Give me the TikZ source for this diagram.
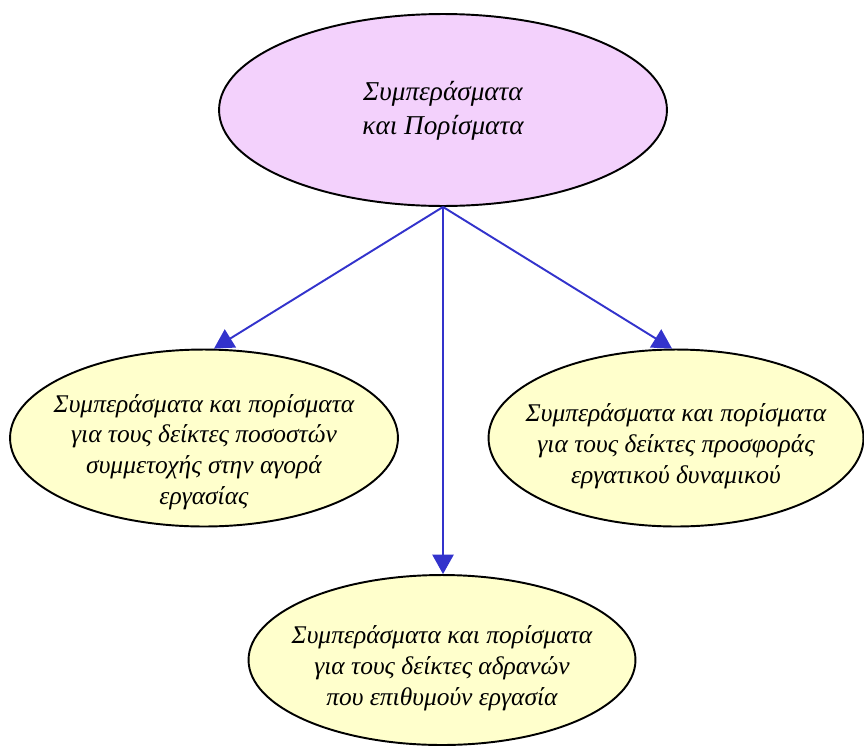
\documentclass[tikz,border=0pt]{standalone}
\usepackage{fontspec}
\setmainfont{Liberation Serif}
\usepackage{tikz}
\usetikzlibrary{shapes.geometric, arrows.meta, positioning}
\definecolor{cRoot}{RGB}{243,209,252}
\definecolor{cLeaf}{RGB}{255,255,204}
\definecolor{cLink}{RGB}{51,51,204}

\tikzset{
    bubble/.style={ellipse, draw=black, line width=1.1pt, inner sep=0pt},
    rootbubble/.style={bubble, fill=cRoot, minimum width=8.96cm, minimum height=3.84cm},
    leafbubble/.style={bubble, fill=cLeaf, minimum height=3.54cm},
    caption/.style={align=center, font=\itshape\fontsize{14.5}{17.5}\selectfont},
    link/.style={-{Triangle[length=11pt, width=12pt]}, cLink, line width=1.1pt}
}

\begin{document}
\begin{tikzpicture}[x=0.02cm, y=-0.02cm]
    \useasboundingbox (0,0) rectangle (864,747);

    % Root
    \node[rootbubble] (root) at (443,110) {};
    \node[caption, font=\itshape\fontsize{15.5}{19}\selectfont] (rootlbl) at (443,111)
        {Συμπεράσματα\\και Πορίσματα};

    % Children
    \node[leafbubble, minimum width=7.76cm] (part) at (204,438) {};
    \node[caption] (partlbl) at (204,452)
        {Συμπεράσματα και πορίσματα\\για τους δείκτες ποσοστών\\συμμετοχής στην αγορά\\εργασίας};

    \node[leafbubble, minimum width=7.5cm] (supply) at (676,438) {};
    \node[caption] (supplylbl) at (676,446)
        {Συμπεράσματα και πορίσματα\\για τους δείκτες προσφοράς\\εργατικού δυναμικού};

    \node[leafbubble, minimum width=7.74cm, minimum height=3.4cm] (idle) at (442,660) {};
    \node[caption] (idlelbl) at (442,668)
        {Συμπεράσματα και πορίσματα\\για τους δείκτες αδρανών\\που επιθυμούν εργασία};

    % Links
    \draw[link] (root.south) -- ([xshift=0.2cm]part.north);
    \draw[link] (root.south) -- ([xshift=-0.08cm]supply.north);
    \draw[link] (root.south) -- ([xshift=0.02cm]idle.north);
\end{tikzpicture}
\end{document}
